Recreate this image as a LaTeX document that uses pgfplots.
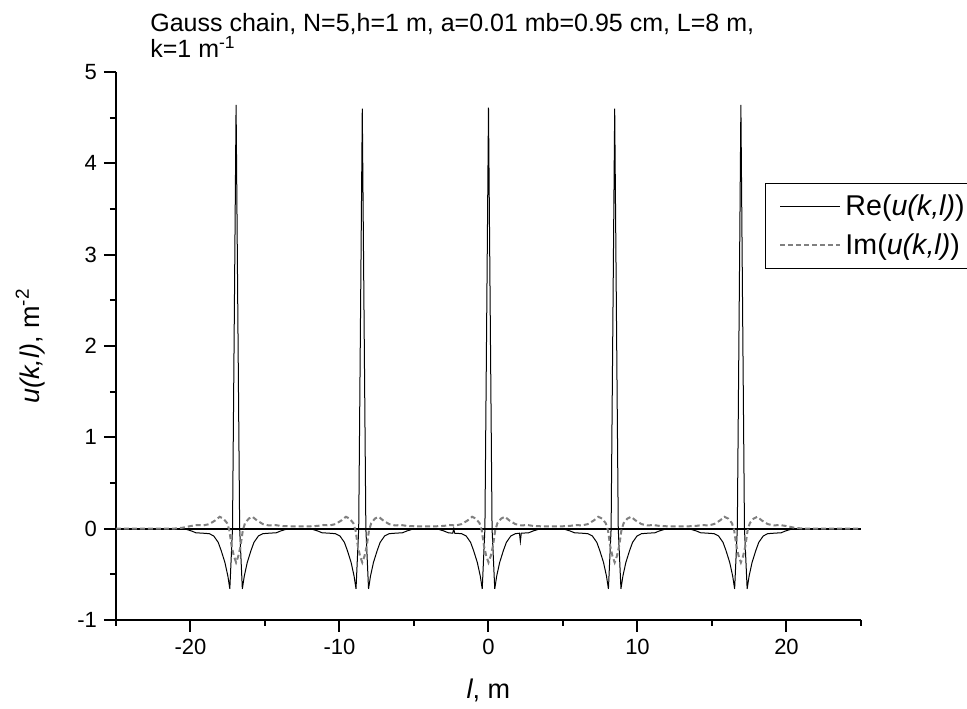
\documentclass[border=0pt]{standalone}
\usepackage{fontspec}
\setmainfont{Liberation Sans}
\usepackage{pgfplots}
\pgfplotsset{compat=1.18}
\begin{document}
\begin{tikzpicture}
\begin{axis}[
  scale only axis,
  width=372.5pt, height=274pt,
  xmin=-25, xmax=25, ymin=-1, ymax=5,
  axis x line=bottom, axis y line=left,
  axis line style={-, line width=1pt},
  xtick={-20,-10,0,10,20},
  minor xtick={-25,-15,-5,5,15,25},
  ytick={-1,0,1,2,3,4,5},
  minor ytick={-0.5,0.5,1.5,2.5,3.5,4.5},
  tick align=outside,
  major tick length=6pt, minor tick length=3pt,
  every tick/.style={black, line width=1pt},
  /pgf/number format/assume math mode=true,
  tick label style={font=\fontsize{11}{13}\selectfont},
  label style={font=\fontsize{13.5}{16}\selectfont},
  xlabel={\textit{l}, m},
  ylabel={\textit{u(k,l)}, m\textsuperscript{-2}},
  xlabel style={at={(rel axis cs:0.5,-0.128)}, anchor=center},
  ylabel style={at={(rel axis cs:-0.115,0.5)}, anchor=center, rotate=0},
  legend style={at={(rel axis cs:0.871,0.797)}, anchor=north west,
    font=\fontsize{14.3}{16}\selectfont, draw=black, line width=0.6pt,
    inner xsep=2pt, inner ysep=3.5pt, row sep=3.5pt},
  legend cell align=left,
  legend image code/.code={\path (0pt,0pt); \draw[#1] (5pt,0pt) -- (35pt,0pt);},
  clip=false,
]
\draw[black, line width=1pt] (axis cs:-25,0) -- (axis cs:25,0);
\addplot[black, line width=0.5pt] coordinates {
(-25,0) (-20.94,0) (-20.34,-0.005) (-19.94,-0.025) (-19.64,-0.045) (-19.14,-0.05) (-18.74,-0.055) (-18.44,-0.08) (-18.14,-0.15) (-17.94,-0.24) (-17.69,-0.37) (-17.49,-0.52) (-17.36,-0.66) (-17.18,0) (-17.06,2.3) (-16.94,4.64) (-16.82,2.3) (-16.70,0) (-16.52,-0.66) (-16.39,-0.52) (-16.19,-0.37) (-15.94,-0.24) (-15.74,-0.15) (-15.44,-0.08) (-15.14,-0.055) (-14.74,-0.05) (-14.24,-0.045) (-13.94,-0.025) (-13.54,-0.005) (-12.705,0)
(-11.87,-0.005) (-11.47,-0.025) (-11.17,-0.045) (-10.67,-0.05) (-10.27,-0.055) (-9.97,-0.08) (-9.67,-0.15) (-9.47,-0.24) (-9.22,-0.37) (-9.02,-0.52) (-8.89,-0.66) (-8.71,0) (-8.59,2.3) (-8.47,4.60) (-8.35,2.3) (-8.23,0) (-8.05,-0.66) (-7.92,-0.52) (-7.72,-0.37) (-7.47,-0.24) (-7.27,-0.15) (-6.97,-0.08) (-6.67,-0.055) (-6.27,-0.05) (-5.77,-0.045) (-5.47,-0.025) (-5.07,-0.005) (-4.235,0)
(-3.4,-0.005) (-3.0,-0.025) (-2.7,-0.045) (-2.4,-0.05) (-2.33,0.0) (-2.27,-0.05) (-1.8,-0.055) (-1.5,-0.08) (-1.2,-0.15) (-1.0,-0.24) (-0.75,-0.37) (-0.55,-0.52) (-0.42,-0.66) (-0.24,0) (-0.12,2.3) (0,4.61) (0.12,2.3) (0.24,0) (0.42,-0.66) (0.55,-0.52) (0.75,-0.37) (1.0,-0.24) (1.2,-0.15) (1.5,-0.08) (1.8,-0.055) (2.08,-0.05) (2.14,-0.14) (2.2,-0.05) (2.7,-0.045) (3.0,-0.025) (3.4,-0.005) (4.235,0)
(5.07,-0.005) (5.47,-0.025) (5.77,-0.045) (6.27,-0.05) (6.67,-0.055) (6.97,-0.08) (7.27,-0.15) (7.47,-0.24) (7.72,-0.37) (7.92,-0.52) (8.05,-0.66) (8.23,0) (8.35,2.3) (8.47,4.60) (8.59,2.3) (8.71,0) (8.89,-0.66) (9.02,-0.52) (9.22,-0.37) (9.47,-0.24) (9.67,-0.15) (9.97,-0.08) (10.27,-0.055) (10.67,-0.05) (11.17,-0.045) (11.47,-0.025) (11.87,-0.005) (12.705,0)
(13.54,-0.005) (13.94,-0.025) (14.24,-0.045) (14.74,-0.05) (15.14,-0.055) (15.44,-0.08) (15.74,-0.15) (15.94,-0.24) (16.19,-0.37) (16.39,-0.52) (16.52,-0.66) (16.70,0) (16.82,2.3) (16.94,4.64) (17.06,2.3) (17.18,0) (17.36,-0.66) (17.49,-0.52) (17.69,-0.37) (17.94,-0.24) (18.14,-0.15) (18.44,-0.08) (18.74,-0.055) (19.14,-0.05) (19.64,-0.045) (19.94,-0.025) (20.34,-0.005) (20.94,0) (25,0)
};
\addlegendentry{Re(\textit{u(k,l)})}
\addplot[color={rgb,255:red,128;green,128;blue,128}, line width=1pt, dash pattern=on 2.5pt off 1.5pt] coordinates {
(-25,0) (-21.14,0) (-20.54,0.01) (-19.94,0.03) (-19.54,0.04) (-19.14,0.035) (-18.74,0.05) (-18.34,0.09) (-18.04,0.13) (-17.79,0.11) (-17.54,0.06) (-17.39,-0.02) (-17.24,-0.19) (-17.09,-0.3) (-16.94,-0.37) (-16.79,-0.3) (-16.64,-0.19) (-16.49,-0.02) (-16.34,0.06) (-16.09,0.11) (-15.84,0.13) (-15.54,0.09) (-15.14,0.05) (-14.74,0.035) (-14.34,0.04) (-13.94,0.03) (-13.34,0.025) (-12.705,0.025)
(-12.07,0.025) (-11.47,0.03) (-11.07,0.04) (-10.67,0.035) (-10.27,0.05) (-9.87,0.09) (-9.57,0.13) (-9.32,0.11) (-9.07,0.06) (-8.92,-0.02) (-8.77,-0.19) (-8.62,-0.3) (-8.47,-0.37) (-8.32,-0.3) (-8.17,-0.19) (-8.02,-0.02) (-7.87,0.06) (-7.62,0.11) (-7.37,0.13) (-7.07,0.09) (-6.67,0.05) (-6.27,0.035) (-5.87,0.04) (-5.47,0.03) (-4.87,0.025) (-4.235,0.025)
(-3.6,0.025) (-3.0,0.03) (-2.6,0.04) (-2.2,0.035) (-1.8,0.05) (-1.4,0.09) (-1.1,0.13) (-0.85,0.11) (-0.6,0.06) (-0.45,-0.02) (-0.3,-0.19) (-0.15,-0.3) (0,-0.37) (0.15,-0.3) (0.3,-0.19) (0.45,-0.02) (0.6,0.06) (0.85,0.11) (1.1,0.13) (1.4,0.09) (1.8,0.05) (2.2,0.035) (2.6,0.04) (3.0,0.03) (3.6,0.025) (4.235,0.025)
(4.87,0.025) (5.47,0.03) (5.87,0.04) (6.27,0.035) (6.67,0.05) (7.07,0.09) (7.37,0.13) (7.62,0.11) (7.87,0.06) (8.02,-0.02) (8.17,-0.19) (8.32,-0.3) (8.47,-0.37) (8.62,-0.3) (8.77,-0.19) (8.92,-0.02) (9.07,0.06) (9.32,0.11) (9.57,0.13) (9.87,0.09) (10.27,0.05) (10.67,0.035) (11.07,0.04) (11.47,0.03) (12.07,0.025) (12.705,0.025)
(13.34,0.025) (13.94,0.03) (14.34,0.04) (14.74,0.035) (15.14,0.05) (15.54,0.09) (15.84,0.13) (16.09,0.11) (16.34,0.06) (16.49,-0.02) (16.64,-0.19) (16.79,-0.3) (16.94,-0.37) (17.09,-0.3) (17.24,-0.19) (17.39,-0.02) (17.54,0.06) (17.79,0.11) (18.04,0.13) (18.34,0.09) (18.74,0.05) (19.14,0.035) (19.54,0.04) (19.94,0.03) (20.54,0.01) (21.14,0) (25,0)
};
\addlegendentry{Im(\textit{u(k,l)})}
\node[anchor=north west, inner sep=0pt, align=left, font=\fontsize{12.5}{12.8}\selectfont] at (rel axis cs:0.0456,1.107) {Gauss chain, N=5,h=1 m, a=0.01 mb=0.95 cm, L=8 m,\\k=1 m\textsuperscript{-1}};
\coordinate (bbll) at (rel axis cs:-0.1557,-0.1624);
\coordinate (bbur) at (rel axis cs:1.1423,1.1314);
\end{axis}
\pgfresetboundingbox
\path[use as bounding box] (bbll) rectangle (bbur);
\end{tikzpicture}
\end{document}
